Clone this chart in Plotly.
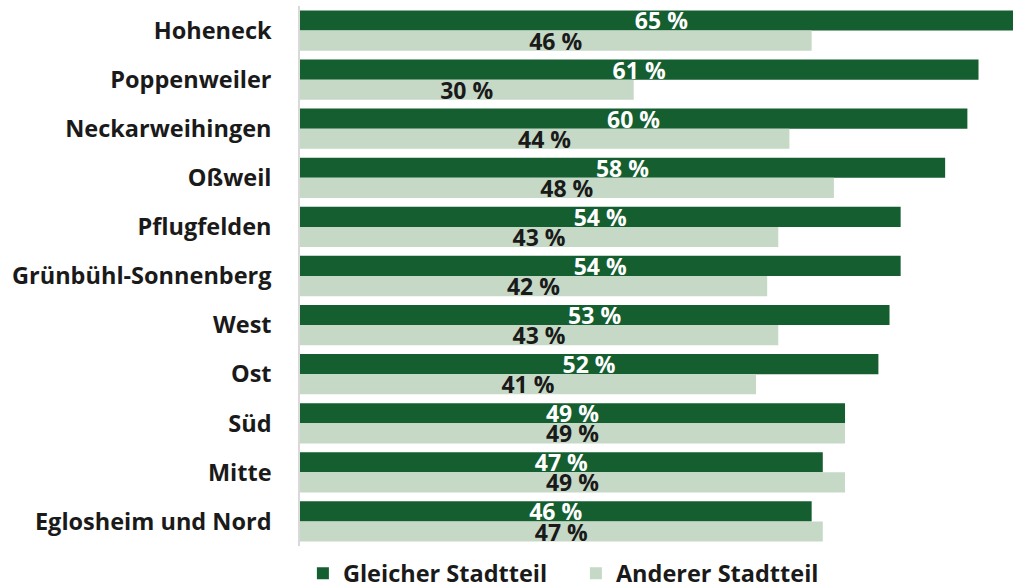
import plotly.graph_objects as go

categories = ["Hoheneck", "Poppenweiler", "Neckarweihingen", "Oßweil", "Pflugfelden",
              "Grünbühl-Sonnenberg", "West", "Ost", "Süd", "Mitte", "Eglosheim und Nord"]
gleicher = [65, 61, 60, 58, 54, 54, 53, 52, 49, 47, 46]
anderer = [46, 30, 44, 48, 43, 42, 43, 41, 49, 49, 47]

dark = "#145E30"
light = "#C5D9C6"
FONT = "Open Sans"

fig = go.Figure()
fig.add_trace(go.Bar(
    y=categories, x=gleicher, orientation="h", name="Gleicher Stadtteil",
    marker=dict(color=dark, line=dict(width=0)),
    text=[f"{v} %" for v in gleicher], textposition="inside", insidetextanchor="middle",
    constraintext="none", cliponaxis=False,
    textfont=dict(family=FONT, size=23, color="white", weight="bold"),
))
fig.add_trace(go.Bar(
    y=categories, x=anderer, orientation="h", name="Anderer Stadtteil",
    marker=dict(color=light, line=dict(width=0)),
    text=[f"{v} %" for v in anderer], textposition="inside", insidetextanchor="middle",
    constraintext="none", cliponaxis=False,
    textfont=dict(family=FONT, size=23, color="#1a1a1a", weight="bold"),
))

# the reference's longest bar runs past the right edge of the picture
fig.update_layout(
    width=1023, height=587,
    margin=dict(l=300, r=0, t=6, b=41, autoexpand=False),
    barmode="group", bargap=0.18, bargroupgap=0,
    plot_bgcolor="white", paper_bgcolor="white",
    font=dict(family=FONT, color="#1a1a1a"),
    xaxis=dict(range=[0, 65], visible=False, showgrid=False, zeroline=False),
    yaxis=dict(autorange="reversed", showline=True, linecolor="#d9d9d9", linewidth=1.5,
               showgrid=False, ticks="", ticklabelstandoff=22, automargin=False,
               tickfont=dict(family=FONT, size=23.5, color="#1a1a1a", weight="bold")),
    legend=dict(orientation="h", x=0.004, xanchor="left", y=-0.051, yanchor="middle",
                font=dict(family=FONT, size=23.5, color="#1a1a1a", weight="bold"),
                itemwidth=30, entrywidth=228, tracegroupgap=0),
    showlegend=True,
)

fig.write_html("out.html", config={"displayModeBar": False},
               post_script="document.body.style.margin='0';document.body.style.overflow='hidden';")
